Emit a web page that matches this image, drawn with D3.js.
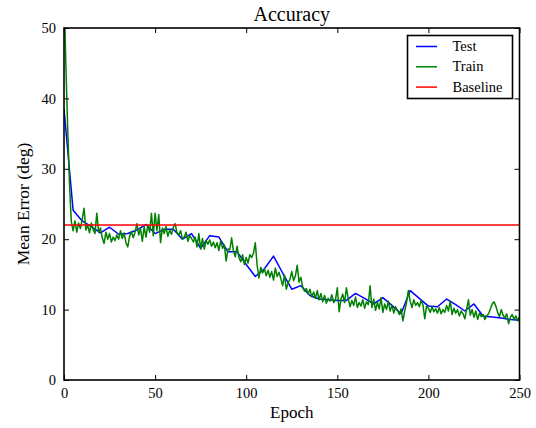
<!DOCTYPE html>
<html><head><meta charset="utf-8">
<script src="https://cdn.jsdelivr.net/npm/d3@7"></script>
<style>body{margin:0;background:#fff}svg{display:block}text{font-family:"Liberation Serif","DejaVu Serif",serif;fill:#000}</style>
</head><body><svg id="c" width="536" height="428"></svg>
<script>
const xTicks = [0, 50, 100, 150, 200, 250];
const yTicks = [0, 10, 20, 30, 40, 50];
const baseline = 22;
const testEpochs = d3.range(0, 251, 5);
const testValues = [38.5,24.1,22.6,21.8,20.9,21.7,20.7,20.8,21.3,22.1,20.8,21.4,21.4,20.0,20.8,18.7,20.5,20.3,18.2,18.2,
16.4,14.7,15.8,17.6,15.2,12.9,13.4,12.0,11.5,11.4,11.3,11.3,12.3,11.6,10.8,11.7,10.6,9.4,12.7,11.6,
10.5,10.4,11.5,10.7,9.8,10.8,9.1,8.95,8.8,8.6,8.5];
const trainValues = [
55,45,36,28,22.5,21.2,22.6,21.0,22.3,21.5,
22.8,24.4,21.3,22.0,20.9,22.3,21.4,20.8,23.7,21.0,
21.6,20.2,19.4,21.0,20.0,20.8,19.6,20.3,19.8,20.6,
20.0,21.2,20.1,20.9,19.5,18.9,20.4,21.1,20.2,21.0,
22.2,20.6,21.5,19.7,21.8,20.3,22.0,21.0,23.7,20.5,
23.7,21.2,23.5,19.5,21.6,20.8,21.8,20.4,21.3,20.7,
21.7,22.2,20.9,20.6,21.2,20.0,20.3,21.0,19.7,20.5,
20.1,19.6,20.3,18.9,20.8,18.6,20.1,18.6,19.8,19.3,
19.9,19.0,19.6,18.8,19.5,18.4,19.8,18.7,19.2,16.9,
18.6,18.5,20.2,18.3,17.5,19.0,17.4,16.8,17.8,16.4,
17.4,16.6,17.8,17.4,18.0,19.5,16.3,14.5,16.0,15.2,
15.8,14.8,15.6,14.6,15.4,14.2,15.9,14.7,15.3,14.4,
13.4,14.9,12.9,13.8,14.3,15.4,14.1,14.8,16.3,13.9,
14.6,13.2,12.6,13.0,12.2,12.9,11.8,12.5,11.6,12.7,
11.4,12.3,11.1,12.0,10.9,11.6,11.2,12.1,11.0,11.4,
13.1,9.7,11.5,12.2,11.0,13.1,11.6,10.4,11.3,10.6,
11.8,10.3,11.0,10.5,11.4,10.2,11.1,10.7,13.4,10.3,
11.5,9.9,11.0,10.1,11.7,9.6,10.8,10.0,11.2,9.8,
10.6,9.5,10.4,9.9,9.3,10.1,8.4,9.8,11.0,12.7,
11.2,10.3,11.4,10.6,11.0,10.4,11.3,10.7,8.7,10.5,
10.2,9.6,10.4,9.7,10.1,9.5,10.3,9.4,10.0,9.6,
10.6,9.8,11.2,9.3,10.2,9.5,10.0,9.1,9.8,9.4,
8.7,10.1,11.4,9.2,10.0,8.9,9.8,8.6,9.5,9.0,
9.3,8.6,9.1,9.4,10.1,10.8,11.1,10.5,9.6,9.0,
10.0,9.2,8.8,9.4,8.0,8.9,9.3,8.6,9.1,8.4,
9.0];
const seriesNames = ["Test", "Train", "Baseline"];
const seriesColors = ["#0000ff", "#008000", "#ff0000"];

const svg = d3.select("#c");
const m = {l: 64, r: 519.5, t: 28, b: 380};
const x = d3.scaleLinear().domain([0, 250]).range([m.l, m.r]);
const y = d3.scaleLinear().domain([0, 50]).range([m.b, m.t]);

svg.append("defs").append("clipPath").attr("id","clip").append("rect")
  .attr("x", m.l).attr("y", m.t).attr("width", m.r - m.l).attr("height", m.b - m.t);

const g = svg.append("g").attr("clip-path","url(#clip)");
const line = d3.line().x(d => x(d[0])).y(d => y(d[1]));
const trainData = trainValues.map((v, i) => [i, v]);
const testData = testValues.map((v, i) => [testEpochs[i], v]);

g.append("path").attr("d", line(testData)).attr("fill","none").attr("stroke",seriesColors[0]).attr("stroke-width",1.5).attr("stroke-linejoin","round");
g.append("path").attr("d", line(trainData)).attr("fill","none").attr("stroke",seriesColors[1]).attr("stroke-width",1.5).attr("stroke-linejoin","round");
g.append("path").attr("d", line([[0, baseline],[250, baseline]])).attr("fill","none").attr("stroke",seriesColors[2]).attr("stroke-width",1.5);

const tl = 5;
const axB = d3.axisBottom(x).tickValues(xTicks).tickSize(-tl).tickPadding(8).tickFormat(d3.format("d"));
const axT = d3.axisTop(x).tickValues(xTicks).tickSize(-tl).tickFormat("");
const axL = d3.axisLeft(y).tickValues(yTicks).tickSize(-tl).tickPadding(8).tickFormat(d3.format("d"));
const axR = d3.axisRight(y).tickValues(yTicks).tickSize(-tl).tickFormat("");
function style(sel){ sel.select(".domain").remove(); sel.selectAll("line").attr("stroke","#000").attr("stroke-width",1);
  sel.selectAll("text").style("font-family",'"Liberation Serif","DejaVu Serif",serif').style("font-size","14.5px").attr("fill","#000"); }
svg.append("g").attr("transform",`translate(0,${m.b})`).call(axB).call(style);
svg.append("g").attr("transform",`translate(0,${m.t})`).call(axT).call(style);
svg.append("g").attr("transform",`translate(${m.l},0)`).call(axL).call(style);
svg.append("g").attr("transform",`translate(${m.r},0)`).call(axR).call(style);

svg.append("rect").attr("x", m.l).attr("y", m.t).attr("width", m.r - m.l).attr("height", m.b - m.t)
  .attr("fill","none").attr("stroke","#000").attr("stroke-width",1.6);

svg.append("text").attr("x",(m.l+m.r)/2).attr("y",21).attr("text-anchor","middle").style("font-size","20px").text("Accuracy");
svg.append("text").attr("x",(m.l+m.r)/2).attr("y",418).attr("text-anchor","middle").style("font-size","17px").text("Epoch");
svg.append("text").attr("transform",`translate(29,${(m.t+m.b)/2}) rotate(-90)`).attr("text-anchor","middle").style("font-size","17.5px").text("Mean Error (deg)");

const lg = svg.append("g");
lg.append("rect").attr("x",407.5).attr("y",35.5).attr("width",105).attr("height",63).attr("fill","#fff").attr("stroke","#000").attr("stroke-width",1.6);
seriesNames.forEach((n,i)=>{
  const yy = 46.5 + i*20.3;
  lg.append("line").attr("x1",416).attr("x2",437).attr("y1",yy).attr("y2",yy).attr("stroke",seriesColors[i]).attr("stroke-width",1.5);
  lg.append("text").attr("x",452.5).attr("y",yy+4.5).style("font-size","14.5px").text(n);
});
</script></body></html>
